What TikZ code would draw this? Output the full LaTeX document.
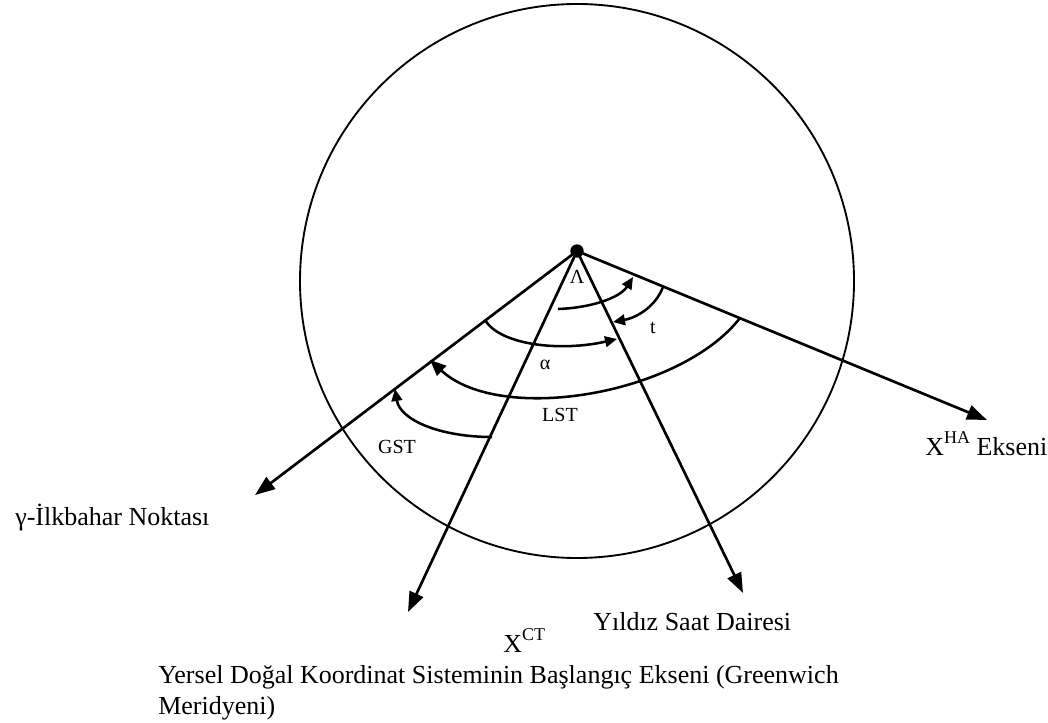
\documentclass[tikz,border=0pt]{standalone}
\usepackage{fontspec}
\setmainfont{Liberation Serif}
\usetikzlibrary{arrows.meta}
\begin{document}
\begin{tikzpicture}[x=0.75pt,y=-0.75pt,
  axis/.style={line width=2pt,-{Triangle[length=15pt,width=11pt]}},
  arcarrow/.style={line width=1.9pt,-{Triangle[length=9pt,width=8pt]}},
  bigarc/.style={line width=1.9pt,-{Triangle[length=12pt,width=10pt]}},
  big/.style={font=\fontsize{19.5}{23}\selectfont, inner sep=0pt},
  small/.style={font=\fontsize{15}{18}\selectfont, inner sep=0pt}]
\useasboundingbox (0,0) rectangle (1048,723);
% sphere
\draw[line width=1.4pt] (577,281) circle[radius=277];
% origin
\node[circle,fill,inner sep=0pt,minimum size=10pt] (O) at (577,251) {};
\coordinate (G) at (255,495);
\coordinate (CT) at (408,612);
\coordinate (Y) at (743,593);
\coordinate (HA) at (987,420);
\draw[axis] (O.center) -- (G);
\draw[axis] (O.center) -- (CT);
\draw[axis] (O.center) -- (Y);
\draw[axis] (O.center) -- (HA);
% angle arcs
\draw[arcarrow] (558,309) .. controls (590,308) and (620,298) .. (633,277);
\draw[arcarrow] (663,287) .. controls (655,308) and (635,318) .. (613,322);
\draw[arcarrow] (485,320) .. controls (500,345) and (560,352) .. (617,339);
\draw[bigarc] (740,318) .. controls (680,395) and (500,425) .. (430,360);
\draw[arcarrow] (492,437) .. controls (440,437) and (400,420) .. (395,389);
% small labels
\node[small] (lam) at (577,277) {Λ};
\node[small] (tl) at (653,328) {t};
\node[small] (al) at (545,365) {α};
\node[small] (lst) at (560,415) {LST};
\node[small] (gst) at (397,447) {GST};
% big labels
\node[big,anchor=base west] (gam) at (15,525) {γ-İlkbahar Noktası};
\node[big,anchor=base west] (xha) at (925,455) {X\raisebox{9pt}{\fontsize{13.5}{14}\selectfont HA} Ekseni};
\node[big,anchor=base west] (yil) at (593,630) {Yıldız Saat Dairesi};
\node[big,anchor=base west] (xct) at (503,652) {X\raisebox{9pt}{\fontsize{13.5}{14}\selectfont CT}};
\node[big,anchor=base west] (yer1) at (158,683) {Yersel Doğal Koordinat Sisteminin Başlangıç Ekseni (Greenwich};
\node[big,anchor=base west] (yer2) at (158,714) {Meridyeni)};
\end{tikzpicture}
\end{document}
